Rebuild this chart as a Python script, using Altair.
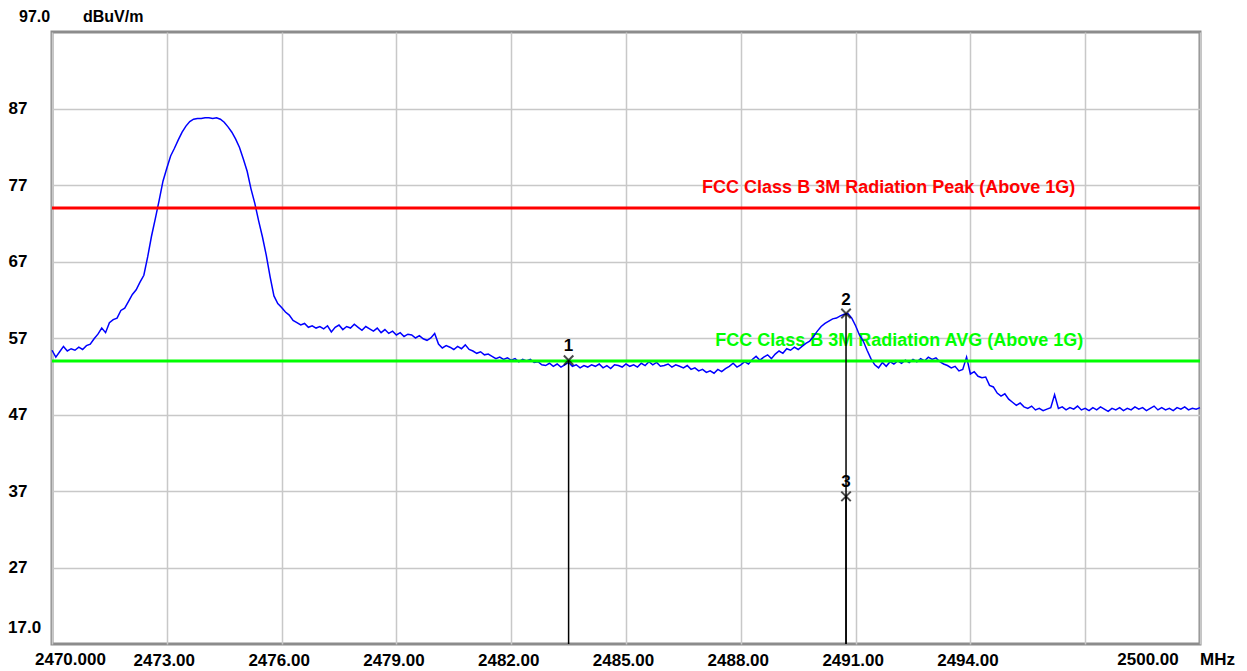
import altair as alt
import pandas as pd

FONT = "Liberation Sans"

# ---- trace (dBuV/m), one value every 0.1 MHz from 2470.0 to 2500.0 ----
F_START = 2470.0
F_STEP = 0.1
level = [
    55.4, 54.5, 55.2, 55.9, 55.3, 55.6, 55.4, 55.8, 55.5, 56.0,
    56.2, 56.9, 57.5, 58.3, 57.7, 59.0, 59.4, 59.6, 60.6, 60.9,
    61.8, 62.7, 63.3, 64.3, 65.2, 67.6, 70.3, 72.6, 75.0, 77.5,
    79.2, 80.8, 81.8, 82.9, 83.9, 84.7, 85.3, 85.6, 85.7, 85.7,
    85.8, 85.8, 85.7, 85.8, 85.6, 85.2, 84.6, 83.9, 83.0, 81.9,
    80.4, 78.8, 76.5, 74.6, 72.3, 70.2, 67.8, 65.0, 62.5, 61.5,
    61.0, 60.4, 60.0, 59.3, 59.0, 58.7, 58.9, 58.4, 58.6, 58.3,
    58.5, 58.2, 58.6, 57.8, 58.4, 58.7, 58.1, 58.5, 58.3, 58.8,
    58.4, 58.0, 58.5, 58.2, 57.9, 58.3, 57.7, 58.1, 57.6, 57.9,
    57.4, 57.7, 57.2, 57.5, 57.4, 57.0, 57.3, 56.9, 56.7, 57.0,
    57.6, 56.2, 55.7, 56.0, 55.8, 55.5, 55.9, 55.6, 56.1, 55.5,
    55.3, 55.0, 55.2, 54.8, 54.9, 54.6, 54.3, 54.5, 54.2, 54.4,
    54.1, 54.3, 53.9, 54.2, 54.0, 54.2, 53.8, 53.9, 53.5, 53.4,
    53.7, 53.3, 53.6, 53.2, 53.5, 53.8, 53.3, 53.5, 53.1, 53.4,
    53.2, 53.5, 53.3, 53.6, 53.1, 53.4, 53.0, 53.5, 53.4, 53.2,
    53.6, 53.3, 53.5, 53.2, 53.7, 53.4, 53.9, 53.5, 53.8, 53.3,
    53.4, 53.6, 53.2, 53.5, 53.3, 53.1, 53.4, 52.9, 53.1, 52.7,
    52.9, 52.5, 52.7, 52.4, 52.9, 52.6, 53.0, 53.3, 53.7, 53.2,
    53.5, 53.9, 53.6, 54.2, 54.6, 54.1, 54.5, 54.8, 54.3, 54.9,
    55.3, 55.0, 55.6, 55.4, 55.8, 55.5, 55.9, 56.3, 56.6, 57.2,
    57.9, 58.5, 58.9, 59.2, 59.5, 59.6, 59.9, 60.1, 60.2, 59.6,
    58.6, 57.4, 56.6, 55.4, 54.3, 53.5, 53.1, 53.8, 53.3, 53.9,
    53.6, 54.0, 53.7, 54.1, 53.8, 54.2, 53.9, 54.3, 54.0, 54.5,
    54.2, 54.4, 53.9, 53.6, 53.4, 53.1, 53.3, 52.7, 52.9, 54.5,
    52.3, 52.6, 52.0, 51.8, 51.9, 50.8, 50.6, 49.8, 49.4, 49.7,
    49.0, 48.6, 48.2, 48.5, 48.0, 47.8, 48.1, 47.6, 47.8, 47.5,
    47.7, 47.9, 49.6, 47.8, 48.0, 47.6, 47.9, 47.7, 48.1, 47.6,
    47.8, 47.5, 47.9, 47.6, 48.0, 47.7, 47.4, 47.8, 47.6, 47.9,
    47.5, 47.8, 47.6, 48.0, 47.7, 47.9, 47.5, 47.8, 48.1, 47.6,
    47.9, 47.6, 47.8, 47.5, 47.9, 47.7, 48.0, 47.6, 47.8, 47.7,
    47.9,
]
freq = [round(F_START + i * F_STEP, 2) for i in range(len(level))]

# ---- limit lines ----
limit_names = ["FCC Class B 3M Radiation Peak (Above 1G)",
               "FCC Class B 3M Radiation AVG (Above 1G)"]
limit_values = [74, 54]
limit_colors = ["#FF0000", "#00FF00"]
limit_label_dx = [-10, -2]

# ---- markers ----
marker_ids = ["1", "2", "3"]
marker_freq = [2483.5, 2490.75, 2490.75]
marker_level = [54.1, 60.2, 36.3]

# ---- axes ----
X_MIN, X_MAX = 2470, 2500
Y_MIN, Y_MAX = 17, 97
x_ticks = [2470, 2473, 2476, 2479, 2482, 2485, 2488, 2491, 2494, 2497, 2500]
x_tick_labels = ["2470.000", "2473.00", "2476.00", "2479.00", "2482.00", "2485.00",
                 "2488.00", "2491.00", "2494.00", "", "2500.00"]
y_ticks = [17, 27, 37, 47, 57, 67, 77, 87, 97]
y_tick_labels = ["17.0", "27", "37", "47", "57", "67", "77", "87", "97.0"]
x_unit = "MHz"
y_unit = "dBuV/m"

trace_df = pd.DataFrame({"freq": freq, "level": level})
limit_df = pd.DataFrame({"name": limit_names, "level": limit_values, "color": limit_colors})
marker_df = pd.DataFrame({"id": marker_ids, "freq": marker_freq, "level": marker_level})

xscale = alt.Scale(domain=[X_MIN, X_MAX], nice=False, zero=False)
yscale = alt.Scale(domain=[Y_MIN, Y_MAX], nice=False, zero=False)

# middle labels via the axes, the special ones as text
mid_x = [(v, l) for v, l in zip(x_ticks, x_tick_labels) if v not in (X_MIN, X_MAX)]
x_expr = "".join(f"datum.value == {v} ? '{l}' : " for v, l in mid_x) + "''"
mid_y = [(v, l) for v, l in zip(y_ticks, y_tick_labels) if v not in (Y_MIN, Y_MAX)]
y_expr = "".join(f"datum.value == {v} ? '{l}' : " for v, l in mid_y) + "''"

x_axis = alt.Axis(values=x_ticks, labelExpr=x_expr, grid=True, ticks=False, tickSize=0,
                  domain=False, labelPadding=8, labelOffset=-3, labelBaseline="top",
                  labelOverlap=False, labelFlush=False, labelBound=False, title=None)
y_axis = alt.Axis(values=[v for v, _ in mid_y], labelExpr=y_expr, grid=True, ticks=False,
                  tickSize=0, domain=False, labelAlign="left", labelPadding=44,
                  labelBaseline="middle", labelOverlap=False, title=None)


def X(field):
    return alt.X(field, type="quantitative", scale=xscale, axis=x_axis, title=None)


def Y(field):
    return alt.Y(field, type="quantitative", scale=yscale, axis=y_axis, title=None)


def xdat(v):
    return alt.XDatum(v, type="quantitative", scale=xscale, axis=x_axis, title=None)


def ydat(v):
    return alt.YDatum(v, type="quantitative", scale=yscale, axis=y_axis, title=None)


def note(text, xv, yv, dx, dy, align, color="black", size=17, weight="bold"):
    return alt.Chart(pd.DataFrame({"t": [text]})).mark_text(
        dx=dx, dy=dy, align=align, baseline="middle", font=FONT,
        fontSize=size, fontWeight=weight, color=color
    ).encode(x=xdat(xv), y=ydat(yv), text="t:N")


# limit labels (drawn beneath the trace)
limit_texts = []
for name, val, col, ddx in zip(limit_names, limit_values, limit_colors, limit_label_dx):
    limit_texts.append(note(name, 2497, val, ddx, -20, "right", color=col, size=18, weight="bold"))

trace = alt.Chart(trace_df).mark_line(color="#0000FF", strokeWidth=1.5).encode(
    x=X("freq"), y=Y("level"),
)

limits = alt.Chart(limit_df).mark_rule(strokeWidth=3).encode(
    y=Y("level"),
    color=alt.Color("color:N", scale=None),
)

marker_rules = alt.Chart(marker_df).mark_rule(color="black", strokeWidth=1.5).encode(
    x=X("freq"), y=Y("level"), y2=alt.datum(Y_MIN),
)

marker_pts = alt.Chart(marker_df).mark_point(
    shape="M-1,-1L1,1M-1,1L1,-1", size=90, filled=False, stroke="black", strokeWidth=2
).encode(x=X("freq"), y=Y("level"))

marker_lbl = alt.Chart(marker_df).mark_text(
    dy=-14, font=FONT, fontSize=17, fontWeight="bold", color="black",
    baseline="middle", align="center"
).encode(x=X("freq"), y=Y("level"), text="id:N")

extras = [
    note(y_tick_labels[-1], X_MIN, Y_MAX, -33, -15, "left", size=16),
    note(y_unit, X_MIN, Y_MAX, 31, -15, "left", size=16),
    note(y_tick_labels[0], X_MIN, Y_MIN, -44, -16, "left"),
    note(x_tick_labels[0], X_MIN, Y_MIN, -17, 16, "left"),
    note(x_tick_labels[-1], X_MAX, Y_MIN, -52, 16, "center"),
    note(x_unit, X_MAX, Y_MIN, 0, 16, "left"),
]

chart = alt.layer(
    *limit_texts, trace, limits, marker_rules, marker_pts, marker_lbl, *extras
).properties(
    width=1148, height=612,
    autosize=alt.AutoSizeParams(type="none"),
    padding={"left": 44, "top": 24, "right": 39, "bottom": 25},
    background="white",
).configure_view(
    stroke="#8C8C8C", strokeWidth=3
).configure_axis(
    gridColor="#C8C8C8", gridWidth=1.5,
    labelFont=FONT, labelFontSize=17, labelFontWeight="bold", labelColor="black",
)

chart.save("out.html", embed_options={"renderer": "svg", "actions": False})
